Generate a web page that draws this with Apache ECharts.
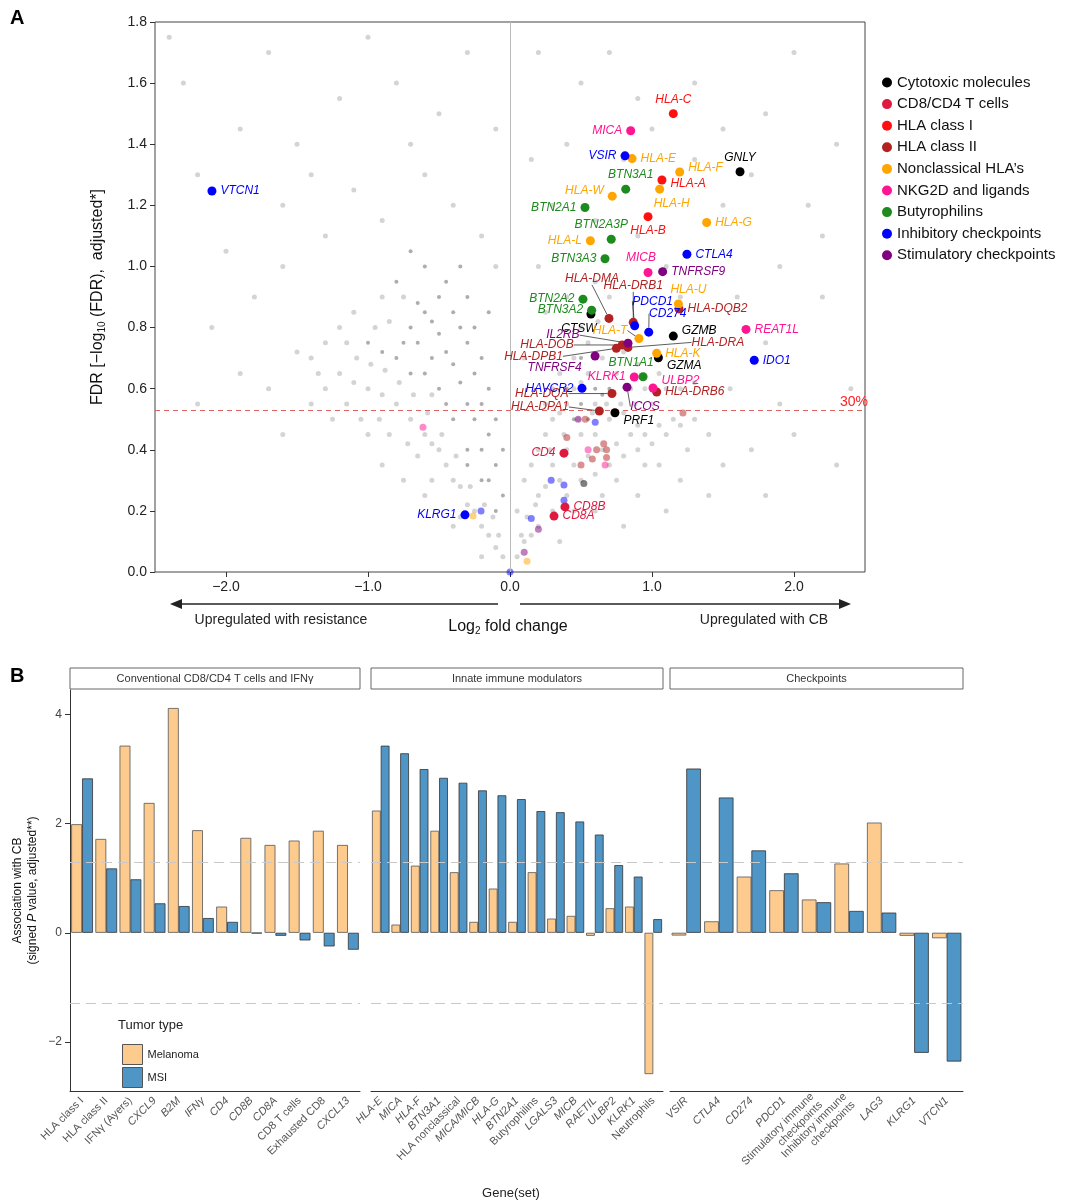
<!DOCTYPE html>
<html><head><meta charset="utf-8">
<script src="https://cdn.jsdelivr.net/npm/echarts@6/dist/echarts.min.js"></script>
<style>html,body{margin:0;padding:0;background:#fff}#c{width:1080px;height:1201px}</style>
</head><body><div id="c"></div>
<script>
// ---------- Panel A data ----------
const categories = ['Cytotoxic molecules','CD8/CD4 T cells','HLA class I','HLA class II','Nonclassical HLA\u2019s','NKG2D and ligands','Butyrophilins','Inhibitory checkpoints','Stimulatory checkpoints'];
const catColors = ['#000000','#e0193f','#ff1010','#b22222','#ffa500','#ff1493','#1e8b1e','#0000ff','#800080'];
const geneNames = ['HLA-C','MICA','VSIR','HLA-E','HLA-F','GNLY','HLA-A','BTN3A1','HLA-H','HLA-W','BTN2A1','HLA-B','HLA-G','BTN2A3P','HLA-L','BTN3A3','CTLA4','MICB','TNFRSF9','BTN2A2','HLA-U','HLA-DQB2','BTN3A2','CTSW','HLA-DMA','HLA-DRB1','PDCD1','CD274','GZMB','REAT1L','HLA-T','IL2RB','HLA-DRA','HLA-DOB','HLA-DPB1','TNFRSF4','HLA-K','GZMA','IDO1','BTN1A1','KLRK1','HAVCR2','ICOS','ULBP2','HLA-DRB6','HLA-DQA','HLA-DPA1','PRF1','VTCN1','KLRG1','CD4','CD8B','CD8A'];
const geneCat = [2,5,7,4,4,0,2,6,4,4,6,2,4,6,4,6,7,5,8,6,4,3,6,0,3,3,7,7,0,5,4,8,3,3,3,8,4,0,7,6,5,7,8,5,3,3,3,0,7,7,1,1,1];
const geneLFC = [1.15,0.85,0.81,0.86,1.195,1.62,1.07,0.815,1.054,0.72,0.528,0.972,1.385,0.713,0.566,0.669,1.246,0.972,1.075,0.514,1.186,1.19,0.575,0.57,0.697,0.868,0.878,0.977,1.15,1.662,0.908,0.831,0.831,0.79,0.749,0.599,1.033,1.045,1.72,0.937,0.875,0.507,0.824,1.007,1.033,0.718,0.629,0.739,-2.099,-0.317,0.38,0.387,0.31];
const geneFDR = [1.50,1.444,1.362,1.353,1.309,1.31,1.283,1.253,1.253,1.23,1.193,1.163,1.144,1.089,1.084,1.025,1.04,0.98,0.983,0.893,0.877,0.861,0.857,0.844,0.83,0.817,0.806,0.785,0.772,0.794,0.764,0.749,0.735,0.743,0.732,0.707,0.716,0.701,0.693,0.639,0.638,0.601,0.605,0.602,0.589,0.584,0.527,0.521,1.247,0.187,0.389,0.213,0.183];
// unlabeled faint coloured genes: [lfc, fdr, category]
const minorGenes = [[-0.613,0.474,5],[-0.204,0.2,7],[-0.26,0.183,4],[0.48,0.50,8],[0.53,0.50,3],[0.6,0.49,7],[1.218,0.52,3],[0.55,0.40,5],[0.61,0.40,3],[0.68,0.40,3],[0.68,0.375,3],[0.58,0.37,3],[0.67,0.35,5],[0.5,0.35,3],[0.52,0.29,0],[0.29,0.30,7],[0.38,0.285,7],[0.38,0.235,7],[0.15,0.175,7],[0.2,0.14,8],[0.1,0.065,8],[0.12,0.035,4],[0.0,0.0,7],[0.4,0.44,3],[0.66,0.42,3]];
const bgLight = [[-0.05,0.05],[-0.1,0.08],[-0.15,0.12],[-0.2,0.15],[-0.25,0.2],[-0.3,0.22],[-0.35,0.28],[-0.4,0.3],[-0.45,0.35],[-0.5,0.4],[-0.55,0.42],[-0.6,0.45],[-0.7,0.5],[-0.8,0.55],[-0.9,0.58],[-1.0,0.6],[-1.1,0.62],[-1.2,0.65],[-0.9,0.9],[-1.1,0.85],[-1.2,0.8],[-1.3,0.75],[-1.4,0.7],[-1.5,0.72],[-1.3,0.6],[-1.4,0.55],[-0.2,1.1],[-0.4,1.2],[-0.6,1.3],[-0.9,1.15],[-1.1,1.25],[-1.3,1.1],[-1.6,1.0],[-1.8,0.9],[-2.0,1.05],[-2.2,1.3],[-1.9,1.45],[-1.5,1.4],[-1.2,1.55],[-0.8,1.6],[-0.5,1.5],[-0.3,1.7],[-1.0,1.75],[-1.7,1.7],[-2.3,1.6],[-2.4,1.75],[-0.1,1.45],[-0.7,1.4],[-1.4,1.3],[-2.1,0.8],[-1.7,0.6],[-0.1,1.0],[-1.6,1.2],[-0.75,0.3],[-1.0,0.45],[-0.2,0.05],[-0.4,0.15],[-0.6,0.25],[-0.9,0.35],[-1.25,0.5],[-1.6,0.45],[-1.9,0.65],[-2.2,0.55],
[-0.08,0.12],[-0.12,0.18],[-0.18,0.22],[-0.28,0.28],[-0.38,0.38],[-0.48,0.45],[-0.58,0.52],[-0.68,0.58],[-0.78,0.62],[-0.88,0.66],[-0.98,0.68],[-1.08,0.7],[-0.85,0.45],[-0.65,0.38],[-0.55,0.3],[-0.35,0.18],[-1.15,0.55],[-1.05,0.5],[-0.95,0.8],[-1.15,0.75],[-0.85,0.82],[-0.75,0.9],[-1.35,0.65],[-0.55,0.58],[-0.72,0.42],[-0.92,0.5],
[0.08,0.12],[0.12,0.18],[0.18,0.22],[0.25,0.28],[0.35,0.3],[0.45,0.35],[0.55,0.38],[0.65,0.4],[0.75,0.42],[0.85,0.45],[0.95,0.45],[1.05,0.48],[1.15,0.5],[0.28,0.4],[0.38,0.45],[0.48,0.5],[0.58,0.52],[0.68,0.55],[0.78,0.55],[0.88,0.55],[0.95,0.6],[0.75,0.3],[0.95,0.35],[1.05,0.35],[1.25,0.4],[0.65,0.25],[0.45,0.2],[1.2,0.6],[1.3,0.62],[1.05,0.65],[0.9,0.68],[0.8,0.72],[0.62,0.82],[0.7,0.9],
[0.05,0.05],[0.1,0.1],[0.15,0.12],[0.2,0.15],[0.3,0.2],[0.4,0.25],[0.5,0.3],[0.6,0.32],[0.7,0.35],[0.8,0.38],[0.9,0.4],[1.0,0.42],[1.1,0.45],[1.2,0.48],[0.05,0.2],[0.1,0.3],[0.15,0.35],[0.2,0.4],[0.25,0.45],[0.3,0.5],[0.35,0.52],[0.4,0.55],[0.45,0.6],[0.5,0.62],[0.55,0.65],[0.6,0.55],[0.7,0.5],[0.8,0.52],[0.9,0.48],[0.2,0.25],[0.3,0.35],[0.4,0.4],[0.5,0.45],[0.6,0.45],[0.35,0.65],[0.45,0.7],[0.5,0.8],[0.55,0.75],[0.65,0.7],[0.75,0.65],[0.85,0.6],[1.0,0.55],[1.1,0.6],[1.3,0.5],[1.4,0.45],[0.3,0.6],[0.25,0.55],[0.4,0.9],[0.6,0.95],[0.2,1.0],[0.3,1.2],[0.4,1.4],[0.5,1.6],[0.2,1.7],[0.7,1.7],[0.9,1.55],[1.3,1.6],[1.5,1.45],[1.8,1.5],[2.0,1.7],[2.3,1.4],[2.1,1.2],[1.9,1.0],[1.6,0.9],[1.8,0.75],[2.2,0.9],[2.4,0.6],[1.5,1.2],[1.3,1.35],[0.15,1.35],[0.25,0.85],[0.1,0.7],[1.7,1.3],[2.2,1.1],[1.55,0.6],[2.0,0.45],[0.6,0.2],[0.9,0.25],[1.2,0.3],[1.5,0.35],[1.7,0.4],[0.35,0.1],[0.8,0.15],[1.1,0.2],[1.4,0.25],[1.1,1.0],[0.9,1.1],[1.2,0.9],[1.4,0.8],[0.6,1.15],[1.0,1.45],[0.8,1.35],[1.9,0.55],[2.3,0.35],[1.8,0.25]];
const bgDark = [[-0.1,0.2],[-0.15,0.3],[-0.2,0.4],[-0.25,0.5],[-0.3,0.55],[-0.35,0.62],[-0.4,0.68],[-0.45,0.72],[-0.5,0.78],[-0.55,0.82],[-0.6,0.85],[-0.65,0.88],[-0.7,0.8],[-0.75,0.75],[-0.8,0.7],[-0.9,0.72],[-1.0,0.75],[-0.3,0.4],[-0.4,0.5],[-0.5,0.6],[-0.6,0.65],[-0.7,0.65],[-0.2,0.3],[-0.3,0.35],[-0.45,0.55],[-0.55,0.7],[-0.65,0.75],[-0.5,0.9],[-0.45,0.95],[-0.4,0.85],[-0.35,0.8],[-0.3,0.75],[-0.25,0.65],[-0.2,0.55],[-0.15,0.45],[-0.1,0.35],[-0.05,0.25],[-0.05,0.4],[-0.1,0.5],[-0.15,0.6],[-0.2,0.7],[-0.25,0.8],[-0.3,0.9],[-0.35,1.0],[-0.6,1.0],[-0.7,1.05],[-0.8,0.95],[-0.15,0.85],[0.45,0.5],[0.5,0.55],[0.55,0.5],[0.6,0.6],[0.65,0.58],[0.5,0.7],[0.7,0.6],[0.4,0.6]];
const fdrThreshold = 0.527;
const xTicksA = [-2,-1,0,1,2];

// ---------- Panel B data ----------
const cat1 = ['HLA class I','HLA class II','IFN\u03b3 (Ayers)','CXCL9','B2M','IFN\u03b3','CD4','CD8B','CD8A','CD8 T cells','Exhausted CD8','CXCL13'];
const mel1 = [1.99,1.72,3.43,2.38,4.12,1.88,0.48,1.74,1.61,1.69,1.87,1.61];
const msi1 = [2.83,1.18,0.98,0.54,0.49,0.27,0.20,-0.01,-0.055,-0.14,-0.25,-0.31];
const cat2 = ['HLA-E','MICA','HLA-F','BTN3A1','HLA nonclassical','MICA/MICB','HLA-G','BTN2A1','Butyrophilins','LGALS3','MICB','RAETIL','ULBP2','KLRK1','Neutrophils'];
const mel2 = [2.24,0.15,1.23,1.87,1.11,0.20,0.81,0.20,1.11,0.26,0.31,-0.055,0.45,0.48,-2.59];
const msi2 = [3.43,3.29,3.0,2.84,2.75,2.61,2.52,2.45,2.23,2.21,2.04,1.80,1.24,1.03,0.25];
const cat3 = ['VSIR','CTLA4','CD274','PDCD1','Stimulatory immune\ncheckpoints','Inhibitory immune\ncheckpoints','LAG3','KLRG1','VTCN1'];
const mel3 = [-0.05,0.21,1.03,0.78,0.61,1.27,2.02,-0.055,-0.10];
const msi3 = [3.01,2.48,1.51,1.09,0.56,0.40,0.37,-2.2,-2.36];
const facetTitles = ['Conventional CD8/CD4 T cells and IFN\u03b3','Innate immune modulators','Checkpoints'];
const plainLabels = ['HLA class I','HLA class II','IFN\u03b3 (Ayers)','CD8 T cells','Exhausted CD8','HLA nonclassical','Butyrophilins','Neutrophils','Stimulatory immune\ncheckpoints','Inhibitory immune\ncheckpoints'];
const yTicksB = [-2,0,2,4];
const sigLine = 1.3;

// ---------- label placement (layout only) ----------
const labelPos = {
 'HLA-C':['top'],'MICA':['left'],'VSIR':['left'],'HLA-E':['right'],'HLA-F':['right',0,-4],'GNLY':['top'],
 'HLA-A':['right',0,4],'BTN3A1':['top',5,0],'HLA-H':['bottom',12,0],'HLA-W':['left',0,-6],'BTN2A1':['left'],
 'HLA-B':['bottom'],'HLA-G':['right'],'BTN2A3P':['top',-10,0],'HLA-L':['left'],'BTN3A3':['left'],'CTLA4':['right'],
 'MICB':['top',-7,0],'TNFRSF9':['right'],'BTN2A2':['left'],'HLA-U':['top',10,0],'HLA-DQB2':['right'],'BTN3A2':['left'],
 'CTSW':['bottom',-12,0],'HLA-DMA':['top',-17,-25,1],'HLA-DRB1':['top',0,-22,1],'PDCD1':['top',18,-10,1],'CD274':['top',19,-4,1],
 'GZMB':['right',0,-5],'REAT1L':['right'],'HLA-T':['left',-3,-8,1],'IL2RB':['left',-40,-8,1],'HLA-DRA':['right',55,-5,1],
 'HLA-DOB':['left',-40,0,1],'HLA-DPB1':['left',-45,8,1],'TNFRSF4':['left',-5,12],'HLA-K':['right'],'GZMA':['right',0,8],
 'IDO1':['right'],'BTN1A1':['top',-12,0],'KLRK1':['left'],'HAVCR2':['left'],'ICOS':['bottom',18,5,1],'ULBP2':['right',0,-7],
 'HLA-DRB6':['right'],'HLA-DQA':['left',-35,0,1],'HLA-DPA1':['left',-22,-4,1],'PRF1':['right',0,8],'VTCN1':['right'],
 'KLRG1':['left'],'CD4':['left'],'CD8B':['right'],'CD8A':['right']
};

const chart = echarts.init(document.getElementById('c'));
const F = 'Liberation Sans, Arial, sans-serif';

const series = [];
series.push({type:'scatter',xAxisIndex:0,yAxisIndex:0,data:bgLight,symbolSize:5,silent:true,
  itemStyle:{color:'#cdcdcd',opacity:0.85},z:1,
  markLine:{silent:true,symbol:'none',label:{show:false},data:[
    {xAxis:0,lineStyle:{color:'#bbb',width:1,type:'solid'}},
    {yAxis:fdrThreshold,lineStyle:{color:'#e06060',width:1.2,type:[5,4]},label:{show:true,position:'end',formatter:'30%',color:'#ff2020',fontSize:14,fontFamily:F,offset:[-30,-8]}}]}});
series.push({type:'scatter',xAxisIndex:0,yAxisIndex:0,data:bgDark,symbolSize:4,silent:true,itemStyle:{color:'#8a8a8a',opacity:0.7},z:2});
series.push({type:'scatter',xAxisIndex:0,yAxisIndex:0,data:minorGenes.map(d=>({value:[d[0],d[1]],itemStyle:{color:catColors[d[2]]}})),symbolSize:7,silent:true,itemStyle:{opacity:0.5},z:3});
categories.forEach((c,ci)=>{
  const data=[];
  geneNames.forEach((g,i)=>{ if(geneCat[i]===ci){
    const lp=labelPos[g]||['right'];
    data.push({name:g,value:[geneLFC[i],geneFDR[i]],label:{position:lp[0]},labelLine:{show:!!lp[3]}});
  }});
  series.push({type:'scatter',name:c,xAxisIndex:0,yAxisIndex:0,data,symbolSize:9,z:5,
    itemStyle:{color:catColors[ci],opacity:1},
    label:{show:true,formatter:'{b}',color:catColors[ci],fontSize:12,fontStyle:'italic',fontFamily:F,distance:4},
    labelLine:{lineStyle:{color:'#333',width:0.8},length2:0},
    labelLayout:(p)=>{const lp=labelPos[p.text]||[]; return {dx:lp[1]||0,dy:lp[2]||0};}
  });
});
// Panel B bars
const melColor='#fdcb8e', msiColor='#4f95c5';
[[mel1,msi1],[mel2,msi2],[mel3,msi3]].forEach((pair,k)=>{
  series.push({type:'bar',name:'Melanoma',xAxisIndex:k+1,yAxisIndex:k+1,data:pair[0],barGap:'0%',barCategoryGap:'10%',
    itemStyle:{color:melColor,borderColor:'#555',borderWidth:0.8}});
  series.push({type:'bar',name:'MSI',xAxisIndex:k+1,yAxisIndex:k+1,data:pair[1],barGap:'0%',barCategoryGap:'10%',
    itemStyle:{color:msiColor,borderColor:'#333',borderWidth:0.8},
    markLine:{silent:true,symbol:'none',label:{show:false},lineStyle:{color:'#c8c8c8',type:[10,6],width:1},data:[{yAxis:sigLine},{yAxis:-sigLine}]}});
});

const gridsB=[{left:70,width:290},{left:371,width:292},{left:670,width:293}];
const catsB=[cat1,cat2,cat3];
const xAxes=[{gridIndex:0,type:'value',min:-2.5,max:2.5,
  axisLine:{show:false,onZero:false},axisTick:{show:true,customValues:xTicksA,lineStyle:{color:'#333'}},splitLine:{show:false},
  axisLabel:{customValues:xTicksA,formatter:v=>v===0?'0.0':(v<0?'\u2212'+Math.abs(v).toFixed(1):v.toFixed(1)),fontSize:14,color:'#222',fontFamily:F}}];
const yAxes=[{gridIndex:0,type:'value',min:0,max:1.8,interval:0.2,axisLine:{show:false,onZero:false},axisTick:{show:true,lineStyle:{color:'#333'}},splitLine:{show:false},
  axisLabel:{formatter:v=>v.toFixed(1),fontSize:14,color:'#222',fontFamily:F},
  name:'FDR [\u2212log{s|10} (FDR),  adjusted*]',nameLocation:'middle',nameGap:48,
  nameTextStyle:{fontSize:16,color:'#111',fontFamily:F,rich:{s:{fontSize:10,verticalAlign:'bottom',padding:[8,0,0,0]}}}}];
catsB.forEach((cats,k)=>{
  xAxes.push({gridIndex:k+1,type:'category',data:cats,axisLine:{onZero:false,lineStyle:{color:'#333'}},axisTick:{alignWithLabel:true,lineStyle:{color:'#333'}},
    axisLabel:{rotate:45,interval:0,fontSize:11,color:'#555',fontFamily:F,lineHeight:12,
      formatter:v=>plainLabels.indexOf(v)>=0?v.split('\n').map(s=>'{n|'+s+'}').join('\n'):'{i|'+v+'}',
      rich:{n:{fontSize:11,color:'#555',fontFamily:F},i:{fontSize:11,color:'#555',fontStyle:'italic',fontFamily:F}}}});
  yAxes.push({gridIndex:k+1,type:'value',min:-2.9,max:4.45,splitLine:{show:false},
    axisLine:{show:k===0,onZero:false,lineStyle:{color:'#333'}},axisTick:{show:k===0,customValues:yTicksB,lineStyle:{color:'#333'}},
    axisLabel:{show:k===0,customValues:yTicksB,formatter:v=>v<0?'\u2212'+Math.abs(v):String(v),fontSize:12,color:'#444',fontFamily:F},
    name:k===0?'Association with CB\n(signed {p|P} value, adjusted**)':'',nameLocation:'middle',nameGap:30,
    nameTextStyle:{fontSize:12,color:'#111',fontFamily:F,lineHeight:15,rich:{p:{fontStyle:'italic',fontSize:12,fontFamily:F}}}});
});

const graphic=[
  {type:'text',left:10,top:8,style:{text:'A',font:'bold 20px '+F,fill:'#000'}},
  {type:'text',left:10,top:666,style:{text:'B',font:'bold 20px '+F,fill:'#000'}},
  {type:'line',shape:{x1:180,y1:604,x2:498,y2:604},style:{stroke:'#222',lineWidth:1.5}},
  {type:'polygon',shape:{points:[[170,604],[182,599],[182,609]]},style:{fill:'#222'}},
  {type:'line',shape:{x1:520,y1:604,x2:840,y2:604},style:{stroke:'#222',lineWidth:1.5}},
  {type:'polygon',shape:{points:[[851,604],[839,599],[839,609]]},style:{fill:'#222'}},
  {type:'text',x:281,y:620,style:{text:'Upregulated with resistance',font:'14px '+F,fill:'#222',align:'center',verticalAlign:'middle'}},
  {type:'text',x:764,y:620,style:{text:'Upregulated with CB',font:'14px '+F,fill:'#222',align:'center',verticalAlign:'middle'}},
  {type:'text',x:508,y:627,style:{text:'Log{s|2} fold change',font:'16px '+F,fill:'#111',align:'center',verticalAlign:'middle',rich:{s:{fontSize:10,padding:[8,0,0,0]}}}},
  {type:'text',x:511,y:1193,style:{text:'Gene(set)',font:'13px '+F,fill:'#222',align:'center',verticalAlign:'middle'}},
  {type:'text',left:118,top:1019,style:{text:'Tumor type',font:'13px '+F,fill:'#222'}}
];
gridsB.forEach((g,k)=>{
  graphic.push({type:'rect',shape:{x:g.left,y:668,width:g.width,height:21},style:{fill:'#fff',stroke:'#666',lineWidth:1}});
  graphic.push({type:'text',x:g.left+g.width/2,y:679,style:{text:facetTitles[k],font:'11px '+F,fill:'#333',align:'center',verticalAlign:'middle'}});
});

chart.setOption({
  animation:false,
  grid:[{left:155,right:215,top:22,bottom:629,show:true,borderColor:'#444',borderWidth:1,backgroundColor:'transparent'},
    ...gridsB.map(g=>({left:g.left,width:g.width,top:690,bottom:110}))],
  xAxis:xAxes,yAxis:yAxes,
  legend:[
    {data:categories,orient:'vertical',left:877,top:70,itemGap:6.6,itemWidth:10,itemHeight:10,icon:'circle',
      itemStyle:{opacity:1},textStyle:{fontSize:15,color:'#111',fontFamily:F}},
    {data:['Melanoma','MSI'],orient:'vertical',left:117,top:1039,itemGap:2,itemWidth:20,itemHeight:20,icon:'rect',
      itemStyle:{borderColor:'#555',borderWidth:1},textStyle:{fontSize:11,color:'#222',fontFamily:F}}
  ],
  graphic, series
});
</script></body></html>
